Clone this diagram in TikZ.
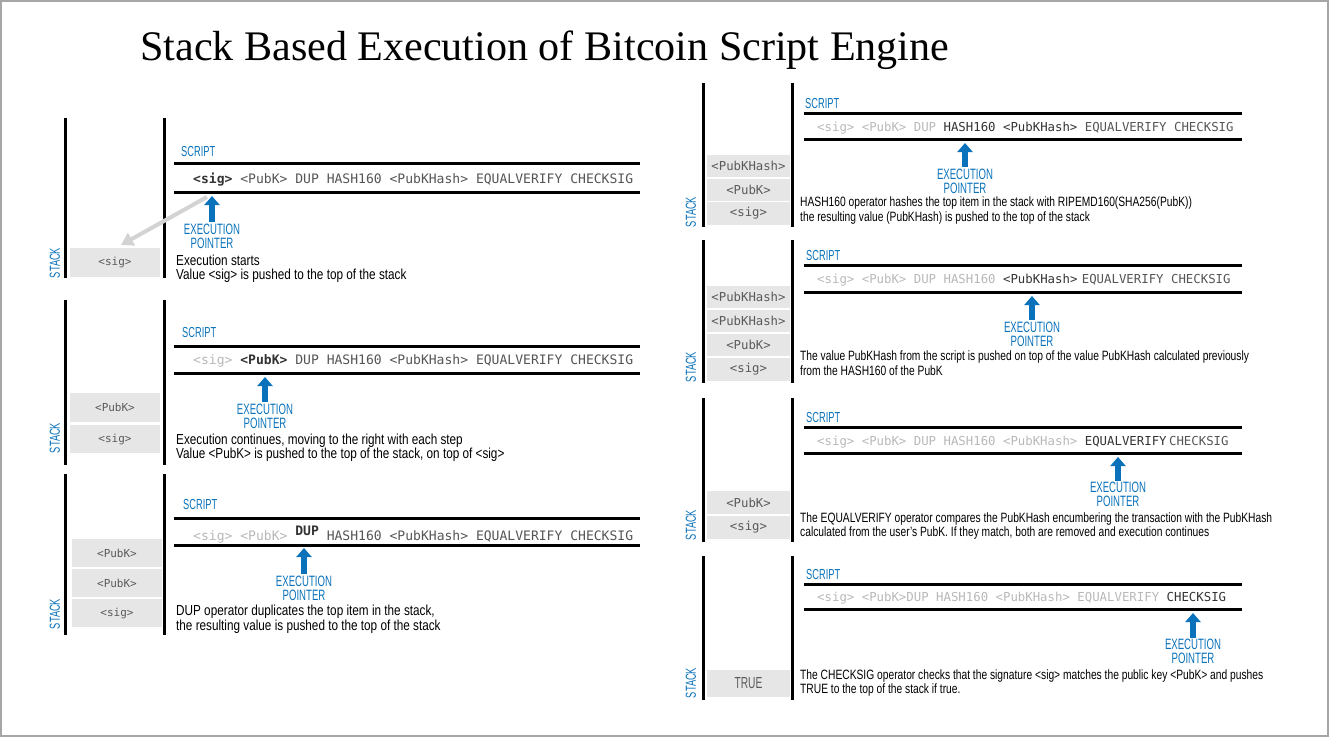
\documentclass[tikz,border=0pt]{standalone}
\usepackage{fontspec}
\setmainfont{Liberation Serif}
\setmonofont{DejaVu Sans Mono}
\newfontfamily\descfont[FakeStretch=0.81]{Liberation Sans}
\newfontfamily\descRfont[FakeStretch=0.76]{Liberation Sans}
\newfontfamily\lblfont[FakeStretch=0.64]{Liberation Sans}
\usetikzlibrary{arrows.meta}
\definecolor{ptrblue}{HTML}{0A72BA}
\definecolor{cellgray}{HTML}{E6E6E6}
\definecolor{bordergray}{HTML}{A6A6A6}
\definecolor{usedgray}{HTML}{B8B8B8}
\definecolor{curgray}{HTML}{333333}
\definecolor{restgray}{HTML}{555555}
\definecolor{celltext}{HTML}{5A5A5A}
\definecolor{copyarrow}{HTML}{D3D3D3}
\newcommand{\used}[1]{\textcolor{usedgray}{#1}}
\newcommand{\curb}[1]{\textcolor{curgray}{\bfseries #1}}
\newcommand{\cur}[1]{\textcolor{curgray}{#1}}
\tikzset{
  vbar/.style={line width=3pt},
  hbar/.style={line width=3pt},
  lbl/.style={text=ptrblue, font=\lblfont\fontsize{14.5}{14.5}\selectfont, inner sep=0pt},
  ptrlbl/.style={lbl, align=center, font=\lblfont\fontsize{15}{13.8}\selectfont},
  ptr/.style={draw=ptrblue, line width=5.5pt, -{Triangle[width=15pt,length=9pt]}},
  copyarr/.style={draw=copyarrow, line width=4pt, -{Triangle[width=14pt,length=12pt]}},
  cellL/.style={fill=cellgray, minimum width=90pt, inner sep=0pt, text=celltext,
    font=\ttfamily\fontsize{11}{11}\selectfont},
  cellR/.style={fill=cellgray, minimum width=83pt, inner sep=0pt, text=celltext,
    font=\ttfamily\fontsize{12.3}{12.3}\selectfont},
  stacklbl/.style={lbl, rotate=90},
  desc/.style={anchor=base west, inner sep=0pt, font=\descfont\fontsize{14.5}{14}\selectfont},
  descR/.style={anchor=base west, inner sep=0pt, font=\descRfont\fontsize{13.5}{14}\selectfont},
  scriptL/.style={anchor=base west, inner sep=0pt, text=restgray, font=\ttfamily\fontsize{13.05}{14}\selectfont},
  scriptR/.style={anchor=base west, inner sep=0pt, text=restgray, font=\ttfamily\fontsize{12.35}{14}\selectfont},
}
\begin{document}
\begin{tikzpicture}[x=1pt,y=-1pt]
\useasboundingbox (0,0) rectangle (1331,739);
\draw[bordergray, line width=2pt] (1,1) rectangle (1328,736);
\node[anchor=base west, inner sep=0pt, font=\fontsize{42.1}{42}\selectfont] (title) at (140,60) {Stack Based Execution of Bitcoin Script Engine};

% ---------------- Left panel 1
\draw[vbar] (65,118) -- (65,278);
\draw[vbar] (164,118) -- (164,278);
\node[lbl, anchor=west] (s1) at (181,152) {SCRIPT};
\draw[hbar] (174,163) -- (640,163);
\draw[hbar] (174,192) -- (640,192);
\node[scriptL] (t1) at (193,183) {\curb{<sig>} <PubK> DUP HASH160 <PubKHash> EQUALVERIFY CHECKSIG};
\coordinate (p1a) at (212,222); \coordinate (p1b) at (212,196);
\draw[ptr] (p1a) -- (p1b);
\node[ptrlbl] (e1) at (212,236) {EXECUTION\\POINTER};
\node[cellL, minimum height=29pt] (c1a) at (115,262.5) {<sig>};
\node[stacklbl] (k1) at (55,263) {STACK};
\node[desc] (d1a) at (176,265) {Execution starts};
\node[desc] (d1b) at (176,279) {Value <sig> is pushed to the top of the stack};
\coordinate (g1a) at (207,197); \coordinate (g1b) at (121,245);
\draw[copyarr] (g1a) -- (g1b);

% ---------------- Left panel 2
\draw[vbar] (65,300) -- (65,465);
\draw[vbar] (164,300) -- (164,465);
\node[lbl, anchor=west] (s2) at (182,333) {SCRIPT};
\draw[hbar] (174,346) -- (640,346);
\draw[hbar] (174,373) -- (640,373);
\node[scriptL] (t2) at (193,364.5) {\used{<sig>} \curb{<PubK>} DUP HASH160 <PubKHash> EQUALVERIFY CHECKSIG};
\coordinate (p2a) at (265,402); \coordinate (p2b) at (265,377);
\draw[ptr] (p2a) -- (p2b);
\node[ptrlbl] (e2) at (265,416) {EXECUTION\\POINTER};
\node[cellL, minimum height=29pt] (c2b) at (115,407.5) {<PubK>};
\node[cellL, minimum height=28pt] (c2a) at (115,439) {<sig>};
\node[stacklbl] (k2) at (55,438) {STACK};
\node[desc] (d2a) at (176,444) {Execution continues, moving to the right with each step};
\node[desc] (d2b) at (176,458) {Value <PubK> is pushed to the top of the stack, on top of <sig>};

% ---------------- Left panel 3
\draw[vbar] (65,474) -- (65,635);
\draw[vbar] (164,474) -- (164,635);
\node[lbl, anchor=west] (s3) at (183,505) {SCRIPT};
\draw[hbar] (174,518) -- (640,518);
\draw[hbar] (174,545) -- (640,545);
\node[scriptL] (t3) at (193,540) {\used{<sig> <PubK>} \raisebox{5pt}{\curb{DUP}} HASH160 <PubKHash> EQUALVERIFY CHECKSIG};
\coordinate (p3a) at (304,574); \coordinate (p3b) at (304,548);
\draw[ptr] (p3a) -- (p3b);
\node[ptrlbl] (e3) at (304,588) {EXECUTION\\POINTER};
\node[cellL, minimum height=28pt] (c3c) at (117,553) {<PubK>};
\node[cellL, minimum height=28pt] (c3b) at (117,583) {<PubK>};
\node[cellL, minimum height=28pt] (c3a) at (117,613) {<sig>};
\node[stacklbl] (k3) at (55,614) {STACK};
\node[desc] (d3a) at (176,615) {DUP operator duplicates the top item in the stack,};
\node[desc] (d3b) at (176,630) {the resulting value is pushed to the top of the stack};

% ---------------- Right panel 1
\draw[vbar] (703,83) -- (703,227);
\draw[vbar] (792,83) -- (792,227);
\node[lbl, anchor=west] (s4) at (805,104) {SCRIPT};
\draw[hbar] (804,113) -- (1242,113);
\draw[hbar] (804,139) -- (1242,139);
\node[scriptR] (t4) at (817,131) {\used{<sig> <PubK> DUP} \cur{HASH160 <PubKHash>} EQUALVERIFY CHECKSIG};
\coordinate (p4a) at (965,167); \coordinate (p4b) at (965,143);
\draw[ptr] (p4a) -- (p4b);
\node[ptrlbl] (e4) at (965,181.5) {EXECUTION\\POINTER};
\node[cellR, minimum height=22pt] (c4c) at (748.5,166) {<PubKHash>};
\node[cellR, minimum height=22pt] (c4b) at (748.5,190) {<PubK>};
\node[cellR, minimum height=23pt] (c4a) at (748.5,213.5) {<sig>};
\node[stacklbl] (k4) at (691,212) {STACK};
\node[descR] (d4a) at (800,206.5) {HASH160 operator hashes the top item in the stack with RIPEMD160(SHA256(PubK))};
\node[descR] (d4b) at (800,221.5) {the resulting value (PubKHash) is pushed to the top of the stack};

% ---------------- Right panel 2
\draw[vbar] (703,240) -- (703,383);
\draw[vbar] (792,240) -- (792,383);
\node[lbl, anchor=west] (s5) at (806,256) {SCRIPT};
\draw[hbar] (804,265) -- (1242,265);
\draw[hbar] (804,292) -- (1242,292);
\node[scriptR] (t5) at (817,283) {\used{<sig> <PubK> DUP HASH160} \cur{<PubKHash>}\hspace{-3pt} EQUALVERIFY CHECKSIG};
\coordinate (p5a) at (1032,320); \coordinate (p5b) at (1032,296);
\draw[ptr] (p5a) -- (p5b);
\node[ptrlbl] (e5) at (1032,334) {EXECUTION\\POINTER};
\node[cellR, minimum height=22pt] (c5d) at (748.5,297) {<PubKHash>};
\node[cellR, minimum height=22pt] (c5c) at (748.5,321) {<PubKHash>};
\node[cellR, minimum height=22pt] (c5b) at (748.5,345) {<PubK>};
\node[cellR, minimum height=23pt] (c5a) at (748.5,369.5) {<sig>};
\node[stacklbl] (k5) at (691,367) {STACK};
\node[descR] (d5a) at (800,360.5) {The value PubKHash from the script is pushed on top of the value PubKHash calculated previously};
\node[descR] (d5b) at (800,375.5) {from the HASH160 of the PubK};

% ---------------- Right panel 3
\draw[vbar] (703,398) -- (703,542);
\draw[vbar] (792,398) -- (792,542);
\node[lbl, anchor=west] (s6) at (806,418) {SCRIPT};
\draw[hbar] (804,427) -- (1242,427);
\draw[hbar] (804,453) -- (1242,453);
\node[scriptR] (t6) at (817,445) {\used{<sig> <PubK> DUP HASH160 <PubKHash>} \cur{EQUALVERIFY}\hspace{-5pt} CHECKSIG};
\coordinate (p6a) at (1118,481); \coordinate (p6b) at (1118,457);
\draw[ptr] (p6a) -- (p6b);
\node[ptrlbl] (e6) at (1118,494.5) {EXECUTION\\POINTER};
\node[cellR, minimum height=23pt] (c6b) at (748.5,502.5) {<PubK>};
\node[cellR, minimum height=23pt] (c6a) at (748.5,527.5) {<sig>};
\node[stacklbl] (k6) at (691,525) {STACK};
\node[descR] (d6a) at (800,522.5) {The EQUALVERIFY operator compares the PubKHash encumbering the transaction with the PubKHash};
\node[descR] (d6b) at (800,536.5) {calculated from the user’s PubK. If they match, both are removed and execution continues};

% ---------------- Right panel 4
\draw[vbar] (703,556) -- (703,700);
\draw[vbar] (792,556) -- (792,700);
\node[lbl, anchor=west] (s7) at (806,575) {SCRIPT};
\draw[hbar] (804,584) -- (1242,584);
\draw[hbar] (804,609) -- (1242,609);
\node[scriptR] (t7) at (817,601) {\used{<sig> <PubK>DUP HASH160 <PubKHash> EQUALVERIFY} \cur{CHECKSIG}};
\coordinate (p7a) at (1193,638); \coordinate (p7b) at (1193,613);
\draw[ptr] (p7a) -- (p7b);
\node[ptrlbl] (e7) at (1193,651.5) {EXECUTION\\POINTER};
\node[cellR, minimum height=27pt, font=\lblfont\fontsize{16}{16}\selectfont] (c7a) at (748.5,683.5) {TRUE};
\node[stacklbl] (k7) at (691,683) {STACK};
\node[descR] (d7a) at (800,679.5) {The CHECKSIG operator checks that the signature <sig> matches the public key <PubK> and pushes};
\node[descR] (d7b) at (800,693.5) {TRUE to the top of the stack if true.};
\end{tikzpicture}
\end{document}
